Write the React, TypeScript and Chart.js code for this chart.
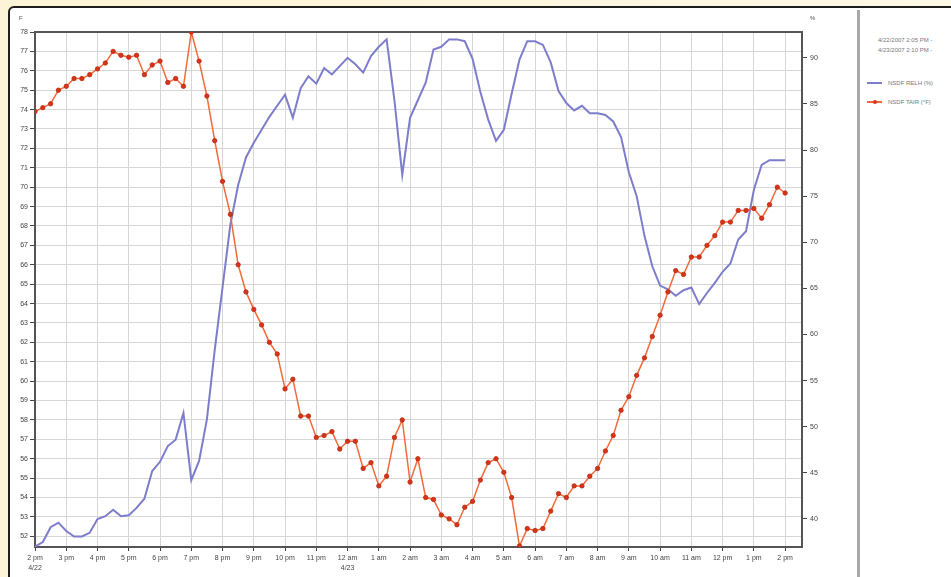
import React, { useEffect, useRef } from "react";
import { Chart, registerables } from "chart.js";

Chart.register(...registerables);

// Sample step (hours) between readings, starting 2 pm 4/22
const STEP_HOURS = 0.25;

// Air temperature (°F), left axis, every 15 minutes
const TAIR: number[] = [
  73.9, 74.1, 74.3, 75.0, 75.2, 75.6, 75.6, 75.8, 76.1, 76.4,
  77.0, 76.8, 76.7, 76.8, 75.8, 76.3, 76.5, 75.4, 75.6, 75.2,
  78.0, 76.5, 74.7, 72.4, 70.3, 68.6, 66.0, 64.6, 63.7, 62.9,
  62.0, 61.4, 59.6, 60.1, 58.2, 58.2, 57.1, 57.2, 57.4, 56.5,
  56.9, 56.9, 55.5, 55.8, 54.6, 55.1, 57.1, 58.0, 54.8, 56.0,
  54.0, 53.9, 53.1, 52.9, 52.6, 53.5, 53.8, 54.9, 55.8, 56.0,
  55.3, 54.0, 51.5, 52.4, 52.3, 52.4, 53.3, 54.2, 54.0, 54.6,
  54.6, 55.1, 55.5, 56.4, 57.2, 58.5, 59.2, 60.3, 61.2, 62.3,
  63.4, 64.6, 65.7, 65.5, 66.4, 66.4, 67.0, 67.5, 68.2, 68.2,
  68.8, 68.8, 68.9, 68.4, 69.1, 70.0, 69.7,
];

// Relative humidity (%), right axis, every 15 minutes
const RELH: number[] = [
  37.0, 37.5, 39.1, 39.6, 38.7, 38.1, 38.1, 38.5, 40.0, 40.3,
  41.0, 40.3, 40.4, 41.2, 42.2, 45.2, 46.2, 47.9, 48.6, 51.5,
  44.2, 46.3, 50.8, 58.3, 65.1, 71.9, 76.2, 79.2, 80.8, 82.2,
  83.6, 84.8, 86.0, 83.5, 86.7, 88.0, 87.2, 88.9, 88.2, 89.1,
  90.0, 89.3, 88.4, 90.2, 91.2, 92.0, 85.4, 77.3, 83.5, 85.4,
  87.3, 90.9, 91.2, 92.0, 92.0, 91.8, 89.9, 86.3, 83.3, 81.0,
  82.2, 86.1, 89.8, 91.8, 91.8, 91.4, 89.5, 86.4, 85.1, 84.3,
  84.8, 84.0, 84.0, 83.8, 83.1, 81.4, 77.6, 75.0, 70.7, 67.4,
  65.3, 64.9, 64.2, 64.8, 65.1, 63.3, 64.5, 65.6, 66.8, 67.7,
  70.3, 71.2, 75.7, 78.4, 78.9, 78.9, 78.9,
];

// Hour tick labels (hours after 2 pm 4/22)
const HOUR_LABELS: string[] = [
  "2 pm", "3 pm", "4 pm", "5 pm", "6 pm", "7 pm", "8 pm", "9 pm", "10 pm",
  "11 pm", "12 am", "1 am", "2 am", "3 am", "4 am", "5 am", "6 am", "7 am",
  "8 am", "9 am", "10 am", "11 am", "12 pm", "1 pm", "2 pm",
];
const DATE_LABELS: Record<number, string> = { 0: "4/22", 10: "4/23" };

const LEFT_TICKS: number[] = [52,53,54,55,56,57,58,59,60,61,62,63,64,65,66,67,68,69,70,71,72,73,74,75,76,77,78];
const RIGHT_TICKS: number[] = [40, 45, 50, 55, 60, 65, 70, 75, 80, 85, 90];

const LEFT_MIN = 51.45;
const LEFT_MAX = 78;
const RIGHT_MIN = 36.96;
const RIGHT_MAX = 92.8;
const X_MAX = 24.54;

const SERIES_NAMES = ["NSDF RELH (%)", "NSDF TAIR (°F)"];
const PERIOD = ["4/22/2007 2:05 PM - ", "4/23/2007 2:10 PM - "];

const BLUE = "#7d7dcc";
const RED_LINE = "#f26a3c";
const RED_DOT = "#d8341a";
const FONT = "'Liberation Sans', Arial, sans-serif";

export default function App() {
  const ref = useRef<HTMLCanvasElement | null>(null);

  useEffect(() => {
    document.body.style.margin = "0";
    const canvas = ref.current!;
    const tempPts = TAIR.map((v, i) => ({ x: i * STEP_HOURS, y: v }));
    const rhPts = RELH.map((v, i) => ({ x: i * STEP_HOURS, y: v }));

    const frame = {
      id: "frame",
      beforeDatasetsDraw(chart: any) {
        const { ctx, chartArea: a } = chart;
        ctx.save();
        ctx.strokeStyle = "#555";
        ctx.lineWidth = 2;
        ctx.strokeRect(a.left, a.top, a.right - a.left, a.bottom - a.top);
        ctx.restore();
      },
    };

    const tickFont = { family: FONT, size: 7, lineHeight: 1.4 };

    const chart = new Chart(canvas, {
      type: "line",
      data: {
        datasets: [
          {
            label: SERIES_NAMES[1],
            data: tempPts,
            yAxisID: "yL",
            borderColor: RED_LINE,
            borderWidth: 1.5,
            pointRadius: 2.2,
            pointBackgroundColor: RED_DOT,
            pointBorderColor: "#b8280f",
            pointBorderWidth: 0.8,
            tension: 0,
            order: 0,
          },
          {
            label: SERIES_NAMES[0],
            data: rhPts,
            yAxisID: "yR",
            borderColor: BLUE,
            borderWidth: 2,
            pointRadius: 0,
            tension: 0,
            order: 1,
          },
        ],
      },
      options: {
        animation: false,
        responsive: false,
        parsing: false as any,
        layout: { padding: { top: 24, left: 0, right: 0, bottom: 0 } },
        plugins: { legend: { display: false }, tooltip: { enabled: false } },
        scales: {
          x: {
            type: "linear",
            min: 0,
            max: X_MAX,
            afterFit: (s: any) => { s.height = 30; },
            afterBuildTicks: (s: any) => {
              s.ticks = HOUR_LABELS.map((_, i) => ({ value: i }));
            },
            grid: { color: "#d6d6d6", lineWidth: 1, tickColor: "#444", tickLength: 4 },
            border: { color: "#555", width: 2 },
            ticks: {
              font: tickFont,
              color: "#444",
              padding: 2,
              maxRotation: 0,
              autoSkip: false,
              callback: (v: any) => {
                const i = Math.round(Number(v));
                const lbl = HOUR_LABELS[i] ?? "";
                return DATE_LABELS[i] ? [lbl, DATE_LABELS[i]] : lbl;
              },
            },
          },
          yL: {
            type: "linear",
            position: "left",
            min: LEFT_MIN,
            max: LEFT_MAX,
            afterFit: (s: any) => { s.width = 25; },
            afterBuildTicks: (s: any) => {
              s.ticks = LEFT_TICKS.map((v) => ({ value: v }));
            },
            grid: { color: "#d6d6d6", lineWidth: 1, tickColor: "#444", tickLength: 5 },
            border: { color: "#555", width: 2 },
            ticks: { font: tickFont, color: "#444", padding: 2 },
          },
          yR: {
            type: "linear",
            position: "right",
            min: RIGHT_MIN,
            max: RIGHT_MAX,
            afterFit: (s: any) => { s.width = 56; },
            afterBuildTicks: (s: any) => {
              s.ticks = RIGHT_TICKS.map((v) => ({ value: v }));
            },
            grid: { drawOnChartArea: false, tickColor: "#444", tickLength: 5 },
            border: { color: "#555", width: 2 },
            ticks: { font: tickFont, color: "#444", padding: 3 },
          },
        },
      },
      plugins: [frame],
    } as any);

    return () => chart.destroy();
  }, []);

  const small: React.CSSProperties = {
    position: "absolute",
    fontFamily: FONT,
    fontSize: 6,
    color: "#777",
    whiteSpace: "nowrap",
    lineHeight: "8px",
  };

  return (
    <div
      style={{
        position: "fixed",
        left: 0,
        top: 0,
        width: 951,
        height: 577,
        overflow: "hidden",
        background: "linear-gradient(90deg, #fdf3d6 0%, #fef8e6 100%)",
      }}
    >
      <div
        style={{
          position: "absolute",
          left: 8,
          top: 6,
          width: 980,
          height: 620,
          background: "#fff",
          border: "2px solid #1e1e1e",
          borderTopLeftRadius: 6,
        }}
      />
      <div style={{ position: "absolute", left: 10, top: 8, width: 848, height: 569 }}>
        <canvas ref={ref} width={848} height={569} style={{ display: "block" }} />
      </div>
      <div style={{ ...small, left: 19, top: 14, color: "#555" }}>F</div>
      <div style={{ ...small, left: 810, top: 14, color: "#555" }}>%</div>
      <div style={{ position: "absolute", left: 857, top: 10, width: 3, height: 580, background: "#a8a8a8" }} />
      <div style={{ ...small, left: 878, top: 36 }}>{PERIOD[0]}</div>
      <div style={{ ...small, left: 878, top: 46 }}>{PERIOD[1]}</div>
      <div style={{ position: "absolute", left: 867, top: 82, width: 15, height: 2, background: BLUE }} />
      <div style={{ ...small, left: 888, top: 79 }}>{SERIES_NAMES[0]}</div>
      <div style={{ position: "absolute", left: 867, top: 101, width: 15, height: 1.5, background: RED_LINE }} />
      <div style={{ position: "absolute", left: 872.5, top: 99.5, width: 4.5, height: 4.5, borderRadius: 3, background: RED_DOT }} />
      <div style={{ ...small, left: 888, top: 98 }}>{SERIES_NAMES[1]}</div>
    </div>
  );
}
